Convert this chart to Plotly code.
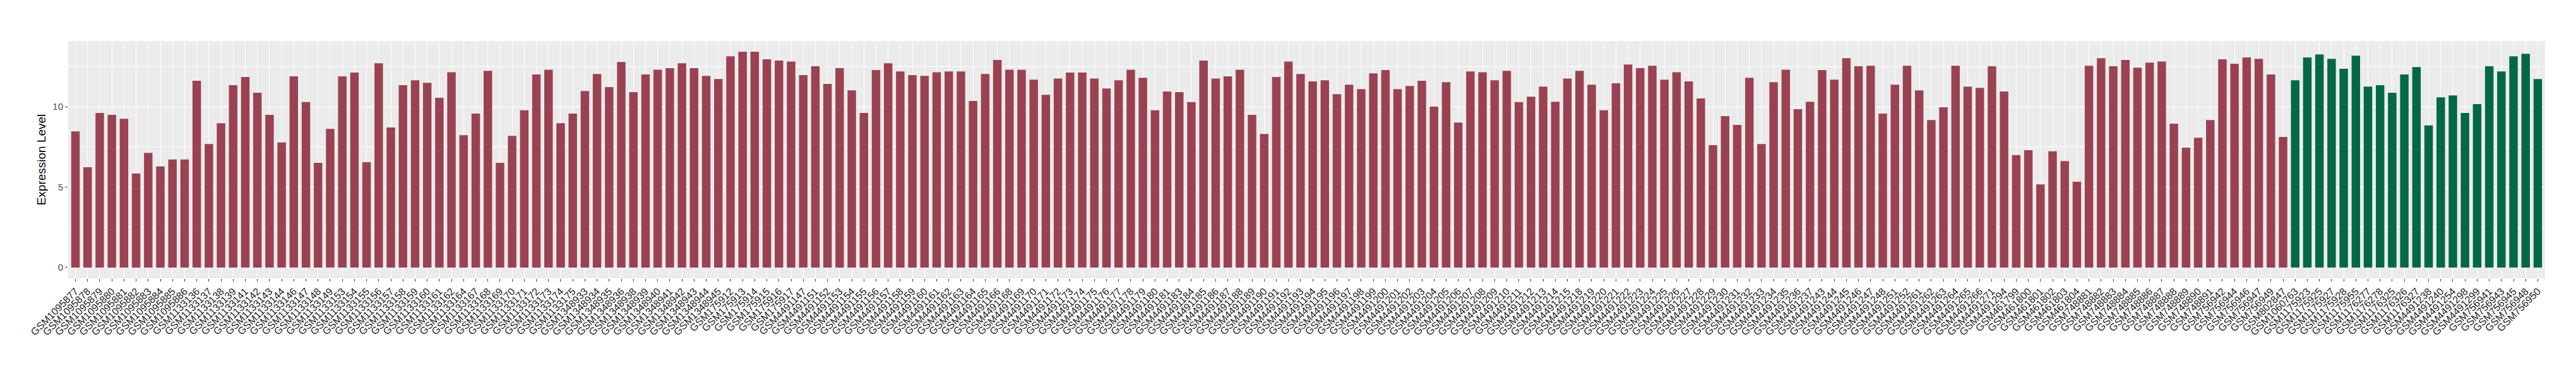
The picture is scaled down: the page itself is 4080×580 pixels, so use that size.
import plotly.graph_objects as go

# ---------------- data ----------------
tumor_samples = [
    "GSM1095877", "GSM1095878", "GSM1095879", "GSM1095880", "GSM1095881",
    "GSM1095882", "GSM1095883", "GSM1095884", "GSM1095885", "GSM1095886",
    "GSM1133136", "GSM1133137", "GSM1133138", "GSM1133139", "GSM1133141",
    "GSM1133142", "GSM1133143", "GSM1133144", "GSM1133146", "GSM1133147",
    "GSM1133148", "GSM1133149", "GSM1133153", "GSM1133154", "GSM1133155",
    "GSM1133156", "GSM1133157", "GSM1133158", "GSM1133159", "GSM1133160",
    "GSM1133161", "GSM1133162", "GSM1133164", "GSM1133167", "GSM1133168",
    "GSM1133169", "GSM1133170", "GSM1133171", "GSM1133172", "GSM1133173",
    "GSM1133174", "GSM1133175",
    "GSM1348933", "GSM1348934", "GSM1348935", "GSM1348936", "GSM1348938",
    "GSM1348939", "GSM1348940", "GSM1348941", "GSM1348942", "GSM1348943",
    "GSM1348944", "GSM1348945",
    "GSM175912", "GSM175913", "GSM175914", "GSM175915", "GSM175916", "GSM175917",
    "GSM4491147", "GSM4491151", "GSM4491152", "GSM4491153", "GSM4491154",
    "GSM4491155", "GSM4491156", "GSM4491157", "GSM4491158", "GSM4491159",
    "GSM4491160", "GSM4491161", "GSM4491162", "GSM4491163", "GSM4491164",
    "GSM4491165", "GSM4491166", "GSM4491168", "GSM4491169", "GSM4491170",
    "GSM4491171", "GSM4491172", "GSM4491173", "GSM4491174", "GSM4491175",
    "GSM4491176", "GSM4491177", "GSM4491178", "GSM4491179", "GSM4491180",
    "GSM4491181", "GSM4491183", "GSM4491184", "GSM4491185", "GSM4491186",
    "GSM4491187", "GSM4491188", "GSM4491189", "GSM4491190", "GSM4491191",
    "GSM4491192", "GSM4491193", "GSM4491194", "GSM4491195", "GSM4491196",
    "GSM4491197", "GSM4491198", "GSM4491199", "GSM4491200", "GSM4491201",
    "GSM4491202", "GSM4491203", "GSM4491204", "GSM4491205", "GSM4491206",
    "GSM4491207", "GSM4491208", "GSM4491209", "GSM4491210", "GSM4491211",
    "GSM4491212", "GSM4491213", "GSM4491214", "GSM4491215", "GSM4491218",
    "GSM4491219", "GSM4491220", "GSM4491221", "GSM4491222", "GSM4491223",
    "GSM4491224", "GSM4491225", "GSM4491226", "GSM4491227", "GSM4491228",
    "GSM4491229", "GSM4491230", "GSM4491231", "GSM4491232", "GSM4491233",
    "GSM4491234", "GSM4491235", "GSM4491236", "GSM4491237", "GSM4491243",
    "GSM4491244", "GSM4491245", "GSM4491246", "GSM4491247", "GSM4491248",
    "GSM4491251", "GSM4491252", "GSM4491261", "GSM4491262", "GSM4491263",
    "GSM4491264", "GSM4491265", "GSM4491266", "GSM4491271", "GSM4491294",
    "GSM461799", "GSM461800", "GSM461801", "GSM461802", "GSM461803", "GSM461804",
    "GSM748881", "GSM748882", "GSM748883", "GSM748884", "GSM748885",
    "GSM748886", "GSM748887", "GSM748888", "GSM748889", "GSM748890", "GSM748891",
    "GSM756942", "GSM756944", "GSM756946", "GSM756947", "GSM756949",
    "GSM802847",
]

tumor_values = [
    8.46, 6.23, 9.61, 9.49, 9.25, 5.84, 7.13, 6.28, 6.71, 6.71,
    11.61, 7.68, 8.97, 11.33, 11.84, 10.86, 9.49, 7.77, 11.88, 10.28,
    6.51, 8.62, 11.88, 12.12, 6.55, 12.70, 8.71, 11.33, 11.64, 11.48,
    10.55, 12.14, 8.23, 9.57, 12.23, 6.51, 8.19, 9.77, 12.00, 12.30,
    8.97, 9.57,
    10.97, 12.03, 11.22, 12.78, 10.90, 12.00, 12.30, 12.39, 12.70, 12.39,
    11.91, 11.72,
    13.13, 13.41, 13.41, 12.94, 12.86, 12.81,
    11.96, 12.51, 11.41, 12.39, 11.01, 9.61, 12.28, 12.70, 12.19, 11.96,
    11.91, 12.14, 12.19, 12.19, 10.35, 12.03, 12.90, 12.30, 12.30, 11.68,
    10.74, 11.75, 12.12, 12.12, 11.75, 11.13, 11.64, 12.30, 11.80, 9.77,
    10.94, 10.90, 10.28, 12.86, 11.75, 11.88, 12.30, 9.49, 8.30, 11.84,
    12.81, 12.03, 11.57, 11.64, 10.78, 11.36, 11.09, 12.07, 12.28, 11.09,
    11.29, 11.61, 10.00, 11.52, 9.01, 12.19, 12.14, 11.64, 12.23, 10.28,
    10.62, 11.25, 10.30, 11.75, 12.23, 11.36, 9.77, 11.45, 12.62, 12.39,
    12.54, 11.68, 12.14, 11.57, 10.51, 7.61, 9.41, 8.86, 11.80, 7.68,
    11.52, 12.30, 9.84, 10.30, 12.28, 11.68, 13.01, 12.51, 12.54, 9.57,
    11.36, 12.54, 11.01, 9.17, 9.96, 12.54, 11.25, 11.17, 12.51, 10.94,
    6.99, 7.29, 5.17, 7.22, 6.62, 5.33,
    12.54, 13.01, 12.51, 12.90, 12.42, 12.74, 12.81, 8.94, 7.45, 8.07, 9.17,
    12.94, 12.67, 13.06, 12.97, 12.00,
    8.12,
]

normal_samples = [
    "GSM1060763", "GSM1175923", "GSM1175925", "GSM1175927", "GSM1175928",
    "GSM1175955", "GSM1176277", "GSM1176278", "GSM1176325", "GSM1176326",
    "GSM1176327", "GSM4491238", "GSM4491240", "GSM4491254", "GSM4491298",
    "GSM4491299", "GSM756941", "GSM756943", "GSM756945", "GSM756948",
    "GSM756950",
]

normal_values = [
    11.64, 13.06, 13.25, 12.97, 12.35, 13.17, 11.25, 11.33, 10.86, 12.00,
    12.46, 8.83, 10.58, 10.70, 9.61, 10.16, 12.51, 12.19, 13.13, 13.29,
    11.72,
]

y_tick_values = [0, 5, 10]
y_axis_title = "Expression Level"

# ---------------- styles ----------------
TUMOR_COLOR = "#9A4252"
NORMAL_COLOR = "#026846"
PANEL_BG = "#EBEBEB"
FONT = "Liberation Sans, Arial, Helvetica, sans-serif"

all_samples = tumor_samples + normal_samples
n = len(all_samples)
ymax = max(tumor_values + normal_values)

fig = go.Figure()
fig.add_trace(go.Bar(x=tumor_samples, y=tumor_values, marker_color=TUMOR_COLOR,
                     marker_line_width=0, width=0.7, showlegend=False))
fig.add_trace(go.Bar(x=normal_samples, y=normal_values, marker_color=NORMAL_COLOR,
                     marker_line_width=0, width=0.7, showlegend=False))

fig.update_layout(
    width=4080, height=580,
    margin=dict(l=100, r=57, t=57, b=147, pad=0),
    paper_bgcolor="white",
    plot_bgcolor=PANEL_BG,
    barmode="overlay",
    font=dict(family=FONT, color="#4D4D4D"),
    showlegend=False,
)

fig.update_xaxes(
    type="category",
    categoryorder="array", categoryarray=all_samples,
    range=[-0.6, n - 1 + 0.6],
    showgrid=True, gridcolor="white", gridwidth=1.1,
    tickangle=-45,
    ticks="outside", ticklen=4, tickcolor="#333333", tickwidth=1,
    tickfont=dict(size=16, color="#222222", family=FONT),
    showline=False, zeroline=False,
    automargin=False,
)

fig.update_yaxes(
    range=[-0.05 * ymax, 1.05 * ymax],
    tickvals=y_tick_values,
    ticktext=[str(v) for v in y_tick_values],
    showgrid=True, gridcolor="white", gridwidth=1.1,
    minor=dict(dtick=2.5, tick0=0, showgrid=True, gridcolor="white", gridwidth=0.55, ticks=""),
    ticks="outside", ticklen=4, tickcolor="#333333", tickwidth=1,
    tickfont=dict(size=15, color="#4D4D4D", family=FONT),
    zeroline=False, showline=False,
    title=dict(text=y_axis_title, font=dict(size=19, color="black", family=FONT), standoff=5),
    automargin=False,
)

fig.write_html("out.html")
